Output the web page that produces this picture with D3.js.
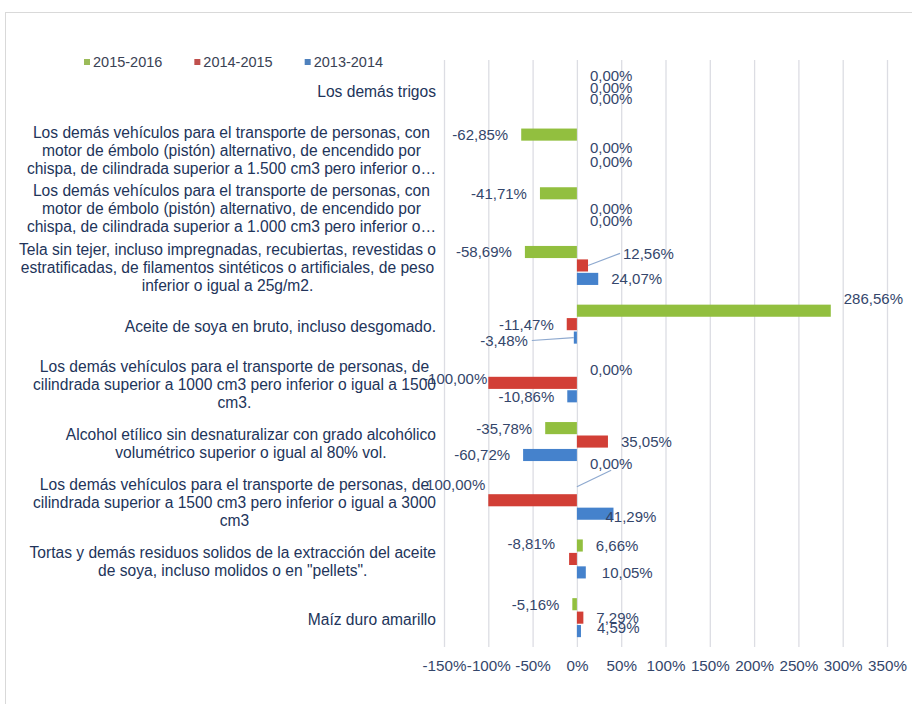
<!DOCTYPE html>
<html>
<head>
<meta charset="utf-8">
<script src="https://cdn.jsdelivr.net/npm/d3@7"></script>
<style>
html,body{margin:0;padding:0;background:#fff;}
svg{display:block;font-family:"Liberation Sans",Arial,sans-serif;}
</style>
</head>
<body>
<svg id="chart" width="912" height="704"></svg>
<script>
// ---------- data ----------
const categories = [
  "Los demás trigos",
  "Los demás vehículos para el transporte de personas, con\nmotor de émbolo (pistón) alternativo, de encendido por\nchispa, de cilindrada superior a 1.500 cm3 pero inferior o…",
  "Los demás vehículos para el transporte de personas, con\nmotor de émbolo (pistón) alternativo, de encendido por\nchispa, de cilindrada superior a 1.000 cm3 pero inferior o…",
  "Tela sin tejer, incluso impregnadas, recubiertas, revestidas o\nestratificadas, de filamentos sintéticos o artificiales, de peso\ninferior o igual a 25g/m2.",
  "Aceite de soya en bruto, incluso desgomado.",
  "Los demás vehículos para el transporte de personas, de\ncilindrada superior a 1000 cm3 pero inferior o igual a 1500\ncm3.",
  "Alcohol etílico sin desnaturalizar con grado alcohólico\nvolumétrico superior o igual al 80% vol.",
  "Los demás vehículos para el transporte de personas, de\ncilindrada superior a 1500 cm3 pero inferior o igual a 3000\ncm3",
  "Tortas y demás residuos solidos de la extracción del aceite\nde soya, incluso molidos o en \"pellets\".",
  "Maíz duro amarillo"
];
const seriesNames = ["2015-2016", "2014-2015", "2013-2014"];
const values2015_2016 = [0, -62.85, -41.71, -58.69, 286.56, 0, -35.78, 0, 6.66, -5.16];
const values2014_2015 = [0, 0, 0, 12.56, -11.47, -100, 35.05, -100, -8.81, 7.29];
const values2013_2014 = [0, 0, 0, 24.07, -3.48, -10.86, -60.72, 41.29, 10.05, 4.59];
const tickValues = [-150, -100, -50, 0, 50, 100, 150, 200, 250, 300, 350];

// ---------- style / layout config ----------
const barColors = ["#92bf3f", "#d23f36", "#4582cc"];
const legendColors = ["#9bbb59", "#c0504d", "#4f81bd"];
// label nudges (dx, dy, leader) keyed "category-series", mimicking moved labels
const labelNudge = {
  "0-1": [0, -2], "0-2": [0, -4],
  "2-1": [0, 2],
  "3-1": [22, -12, true],
  "4-0": [0, -12],
  "4-2": [-33, 3, true],
  "5-1": [12, -4],
  "7-0": [0, -23, true],
  "7-1": [10, -16],
  "7-2": [-21, 3],
  "8-1": [-1, -15],
  "8-2": [3, 0],
  "9-2": [3, -3]
};

const seriesValues = [values2015_2016, values2014_2015, values2013_2014];
const rows = categories.map((c, i) => ({
  i, cat: c, vals: seriesValues.map((s, k) => ({ k, v: s[i] }))
}));

const svg = d3.select("#chart");
const plot = { left: 444, right: 887, top: 60, bottom: 647 };

// border
svg.append("rect").attr("x", 5.5).attr("y", 12.5).attr("width", 930).attr("height", 720)
  .attr("fill", "none").attr("stroke", "#d9d9d9");

const x = d3.scaleLinear().domain([-150, 350]).range([plot.left, plot.right]);
const y = d3.scaleBand().domain(d3.range(categories.length)).range([plot.top, plot.bottom]);
const inner = d3.scaleBand().domain(d3.range(seriesNames.length)).range([-19.5, 19.5]).paddingInner(0.1);

// gridlines + axis
const axis = d3.axisBottom(x).tickValues(tickValues)
  .tickFormat(d => d + "%")
  .tickSize(-(plot.bottom - plot.top)).tickPadding(13);
const gx = svg.append("g").attr("transform", `translate(0,${plot.bottom})`).call(axis);
gx.select(".domain").remove();
gx.selectAll(".tick line").attr("stroke", "#dcdde3").attr("stroke-width", 1.3);
gx.selectAll(".tick text").attr("fill", "#34466b").attr("font-size", 15.2)
  .attr("font-family", "'Liberation Sans',Arial,sans-serif");

// bars
const yc = i => y(i) + y.bandwidth() / 2;
const g = svg.append("g");
rows.forEach(r => {
  g.selectAll(null).data(r.vals).enter().append("rect")
    .attr("x", d => x(Math.min(0, d.v)))
    .attr("width", d => Math.abs(x(d.v) - x(0)))
    .attr("y", d => yc(r.i) + inner(d.k))
    .attr("height", inner.bandwidth())
    .attr("fill", d => barColors[d.k]);
});

// data labels
const fmt = v => v.toFixed(2).replace(".", ",") + "%";
const lg = svg.append("g").attr("font-size", 15).attr("fill", "#34466b");
rows.forEach(r => {
  r.vals.forEach(d => {
    const key = r.i + "-" + d.k;
    const nudge = labelNudge[key] || [0, 0, false];
    const by = yc(r.i) + inner(d.k) + inner.bandwidth() / 2;
    const neg = d.v < 0;
    const lx = (neg ? x(d.v) - 13 : x(d.v) + 13) + nudge[0];
    const ly = by + nudge[1];
    const t = lg.append("text").attr("x", lx).attr("y", ly).attr("dy", "0.36em")
      .attr("text-anchor", neg ? "end" : "start").text(fmt(d.v));
    if (nudge[2]) {
      const bb = t.node().getBBox();
      let ex, ey;
      if (Math.abs(nudge[1]) > Math.abs(nudge[0])) {
        ex = bb.x + bb.width / 2; ey = nudge[1] < 0 ? bb.y + bb.height - 2 : bb.y;
      } else {
        ey = bb.y + bb.height / 2;
        ex = nudge[0] > 0 ? bb.x - 3 : bb.x + bb.width + 4;
      }
      lg.insert("line", ":first-child").attr("x1", x(d.v)).attr("y1", by).attr("x2", ex).attr("y2", ey)
        .attr("stroke", "#8ea9cf").attr("stroke-width", 1.2);
    }
  });
});

// category labels: block right aligned, lines centered within block
const cg = svg.append("g").attr("font-size", 15.6).attr("fill", "#22345a");
const labelRight = 436, lineH = 18;
rows.forEach(r => {
  const lines = r.cat.split("\n");
  const t = cg.append("text").attr("text-anchor", "middle");
  const tspans = lines.map((ln, j) => t.append("tspan").text(ln));
  const w = d3.max(tspans, s => s.node().getComputedTextLength());
  const cx = labelRight - w / 2;
  const y0 = yc(r.i) + 2 - (lines.length - 1) * lineH / 2;
  tspans.forEach((s, j) => s.attr("x", cx).attr("y", y0 + j * lineH).attr("dy", "0.36em"));
});

// legend
const leg = svg.append("g").attr("font-size", 14.5).attr("fill", "#3a4254");
let lx = 84;
seriesNames.forEach((n, k) => {
  leg.append("rect").attr("x", lx).attr("y", 59).attr("width", 6).attr("height", 6).attr("fill", legendColors[k]);
  const t = leg.append("text").attr("x", lx + 9).attr("y", 62).attr("dy", "0.36em").text(n);
  lx += 9 + t.node().getComputedTextLength() + 32;
});
</script>
</body>
</html>
